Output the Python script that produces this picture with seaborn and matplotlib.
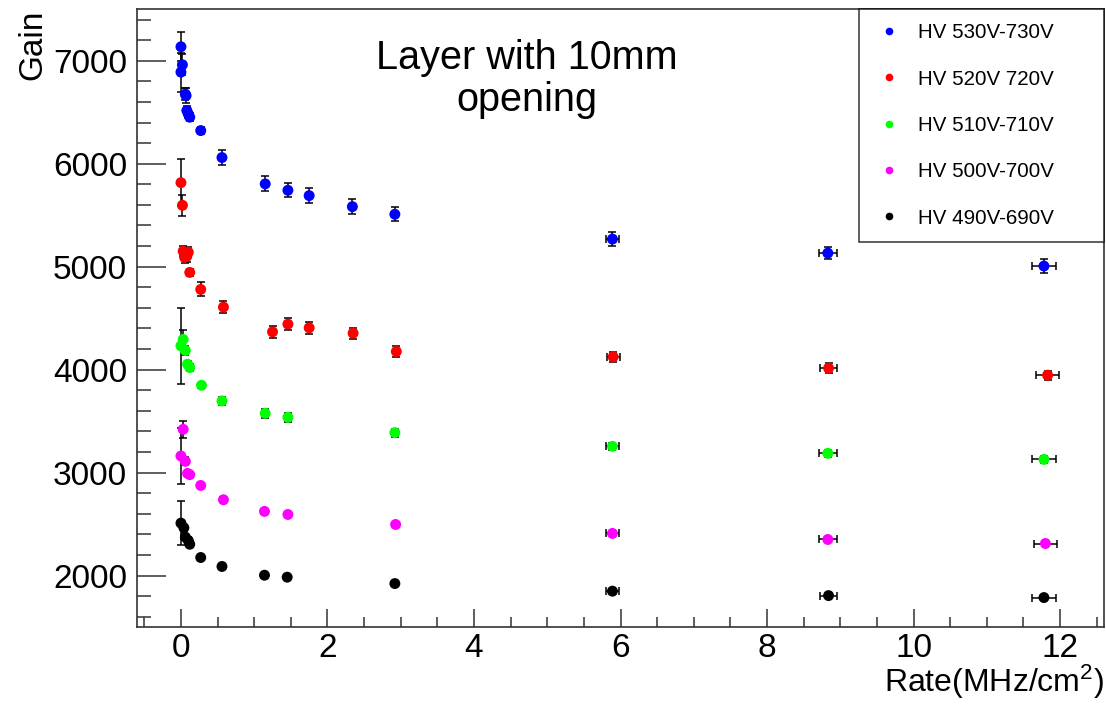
import numpy as np
import pandas as pd
import matplotlib
matplotlib.use("Agg")
import matplotlib.pyplot as plt
from matplotlib.ticker import MultipleLocator
from matplotlib.lines import Line2D
import seaborn as sns

# ---- measured gain vs. rate for each HV setting ----
labels = ["HV 530V-730V", "HV 520V 720V", "HV 510V-710V", "HV 500V-700V", "HV 490V-690V"]
colors = ["#0000ff", "#ff0000", "#00ff00", "#ff00ff", "#000000"]

rate_530 = [0.00, 0.02, 0.00, 0.06, 0.07, 0.08, 0.10, 0.12, 0.27, 0.56, 1.15, 1.46, 1.75, 2.34, 2.92, 5.89, 8.83, 11.78]
gain_530 = [7136, 6961, 6890, 6676, 6662, 6517, 6484, 6452, 6322, 6060, 5804, 5742, 5690, 5583, 5509, 5268, 5132, 5006]
gerr_530 = [140, 100, 190, 60, 75, 40, 40, 40, 30, 75, 73, 70, 70, 70, 70, 70, 60, 70]
rerr_530 = [0.01] * 15 + [0.09, 0.12, 0.16]

rate_520 = [0.00, 0.02, 0.03, 0.05, 0.06, 0.08, 0.10, 0.12, 0.27, 0.58, 1.25, 1.46, 1.75, 2.35, 2.94, 5.90, 8.84, 11.83]
gain_520 = [5816, 5596, 5150, 5090, 5130, 5100, 5140, 4944, 4779, 4607, 4367, 4442, 4406, 4354, 4176, 4124, 4014, 3946]
gerr_520 = [230, 100, 50, 50, 50, 50, 50, 30, 68, 60, 55, 60, 60, 55, 55, 50, 50, 45]
rerr_520 = [0.01] * 15 + [0.09, 0.12, 0.16]

rate_510 = [0.03, 0.00, 0.06, 0.09, 0.12, 0.28, 0.56, 1.15, 1.46, 2.92, 5.89, 8.83, 11.78]
gain_510 = [4293, 4231, 4186, 4053, 4020, 3848, 3696, 3576, 3537, 3388, 3255, 3187, 3128]
gerr_510 = [90, 370, 40, 30, 30, 25, 40, 45, 45, 40, 35, 35, 35]
rerr_510 = [0.01] * 10 + [0.09, 0.12, 0.16]

rate_500 = [0.03, 0.00, 0.06, 0.09, 0.12, 0.27, 0.58, 1.14, 1.46, 2.93, 5.89, 8.83, 11.80]
gain_500 = [3420, 3161, 3109, 2992, 2980, 2875, 2736, 2623, 2593, 2496, 2409, 2350, 2311]
gerr_500 = [84, 270, 40, 25, 25, 25, 25, 25, 25, 20, 20, 20, 20]
rerr_500 = [0.01] * 10 + [0.09, 0.12, 0.16]

rate_490 = [0.00, 0.04, 0.06, 0.10, 0.12, 0.27, 0.56, 1.14, 1.45, 2.92, 5.89, 8.84, 11.78]
gain_490 = [2509, 2464, 2373, 2340, 2304, 2175, 2088, 2003, 1984, 1922, 1848, 1805, 1786]
gerr_490 = [214, 30, 30, 30, 30, 25, 25, 20, 20, 20, 20, 20, 20]
rerr_490 = [0.01] * 10 + [0.09, 0.12, 0.16]

rates = [rate_530, rate_520, rate_510, rate_500, rate_490]
gains = [gain_530, gain_520, gain_510, gain_500, gain_490]
gerrs = [gerr_530, gerr_520, gerr_510, gerr_500, gerr_490]
rerrs = [rerr_530, rerr_520, rerr_510, rerr_500, rerr_490]

frames = []
for lab, r, g, ge, re in zip(labels, rates, gains, gerrs, rerrs):
    frames.append(pd.DataFrame({"rate": r, "gain": g, "gerr": ge, "rerr": re, "hv": lab}))
df = pd.concat(frames, ignore_index=True)

sns.set_theme(style="ticks")
plt.rcParams["font.family"] = ["Liberation Sans", "DejaVu Sans"]
plt.rcParams["mathtext.fontset"] = "custom"
plt.rcParams["mathtext.rm"] = "Liberation Sans"
plt.rcParams["mathtext.it"] = "Liberation Sans:italic"
plt.rcParams["text.color"] = "black"
plt.rcParams["axes.labelcolor"] = "black"

fig = plt.figure(figsize=(11.06, 7.04), dpi=100)
ax = fig.add_axes([137 / 1106, 1 - 627 / 704, 967 / 1106, 617.7 / 704])

# error bars first, markers on top
ax.errorbar(df["rate"], df["gain"], yerr=df["gerr"], xerr=df["rerr"], fmt="none",
            ecolor="black", elinewidth=1.1, capsize=3.2, capthick=1.1, zorder=2)

sns.scatterplot(data=df, x="rate", y="gain", hue="hv", hue_order=labels,
                palette=colors, s=62, edgecolor="none", linewidth=0,
                legend=False, ax=ax, zorder=3)

ax.set_xlim(-0.6, 12.6)
ax.set_ylim(1500, 7500)

ax.xaxis.set_major_locator(MultipleLocator(2))
ax.xaxis.set_minor_locator(MultipleLocator(0.5))
ax.yaxis.set_major_locator(MultipleLocator(1000))
ax.yaxis.set_minor_locator(MultipleLocator(200))

ax.tick_params(axis="both", which="both", direction="in", color="#333333",
               labelcolor="black", labelsize=24, width=1.1,
               left=True, bottom=True, top=False, right=False)
ax.tick_params(axis="y", which="major", length=21, pad=7)
ax.tick_params(axis="y", which="minor", length=10)
ax.tick_params(axis="x", which="major", length=13, pad=4)
ax.tick_params(axis="x", which="minor", length=7)

for sp in ax.spines.values():
    sp.set_visible(True)
    sp.set_color("#333333")
    sp.set_linewidth(1.2)

ax.set_xlabel("Rate(MHz/cm$^{2}$)", fontsize=23, loc="right")
ax.xaxis.set_label_coords(1.0, -0.058)
ax.set_ylabel("Gain", fontsize=24, loc="top")
ax.yaxis.set_label_coords(-0.092, 1.0)

ax.text(0.403, 0.887, "Layer with 10mm\nopening", transform=ax.transAxes,
        ha="center", va="center", fontsize=28.5, linespacing=1.14, color="black")

handles = [Line2D([0], [0], marker="o", linestyle="none", markersize=5.5,
                  markerfacecolor=c, markeredgecolor="none") for c in colors]
leg = ax.legend(handles, labels, loc="upper left",
                bbox_to_anchor=(0.747, 0.625, 0.253, 0.375), mode="expand",
                fontsize=14.8, frameon=True, fancybox=False, shadow=False,
                borderpad=0.68, labelspacing=1.33, handlelength=1.5,
                handletextpad=0.65, borderaxespad=0.0)
leg.get_frame().set_edgecolor("black")
leg.get_frame().set_linewidth(1.1)
for t in leg.get_texts():
    t.set_color("black")

fig.savefig("out.png", dpi=100)
